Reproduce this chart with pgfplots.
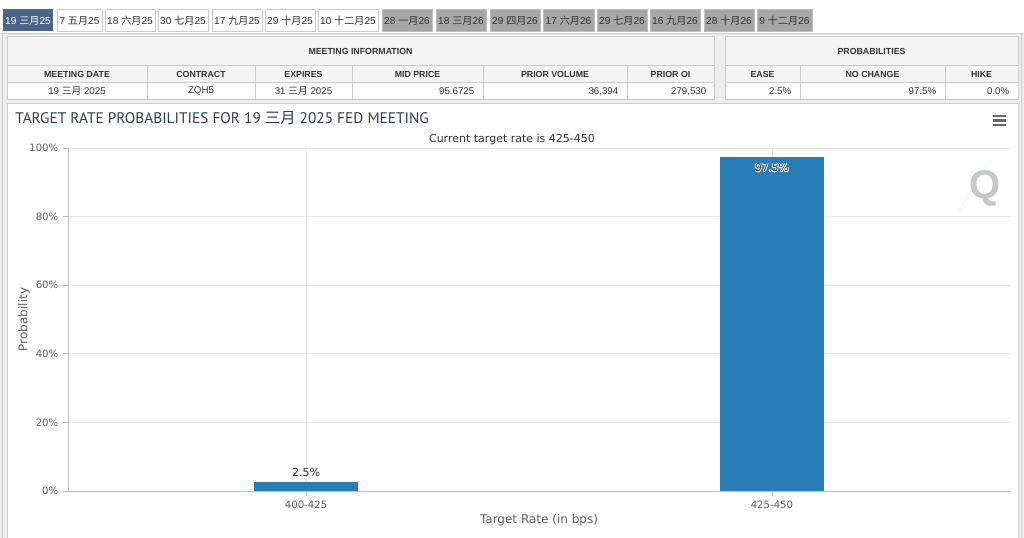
\documentclass[border=0pt]{standalone}
\usepackage{fontspec}
\setmainfont{DejaVu Sans}
\newfontfamily\arial{Liberation Sans}
\newfontfamily\cjk{Noto Sans CJK SC}
\newfontfamily\ptsans{PT Sans}
\usepackage{pgfplots}
\pgfplotsset{compat=1.18}
\definecolor{barblue}{RGB}{40,127,184}
\definecolor{selblue}{RGB}{74,101,135}
\definecolor{tabgray}{RGB}{166,166,166}
\definecolor{pagebg}{RGB}{238,238,238}
\definecolor{cellbg}{RGB}{245,245,245}
\definecolor{lineg}{RGB}{204,204,204}
\definecolor{titlec}{RGB}{44,62,90}
\definecolor{txt}{RGB}{51,51,51}
\definecolor{ticktxt}{RGB}{96,96,96}

\newcommand{\tabsel}[3]{\fill[selblue] (#1,9) rectangle (#2,31);
  \node[text=white,font=\arial\fontsize{7.6}{9}\selectfont,inner sep=0] at ({(#1+#2)/2},20.5) {#3};}
\newcommand{\tabw}[3]{\filldraw[fill=white,draw=lineg,line width=0.6pt] (#1,9) rectangle (#2,31);
  \node[text=txt,font=\arial\fontsize{7.6}{9}\selectfont,inner sep=0] at ({(#1+#2)/2},20.5) {#3};}
\newcommand{\tabg}[3]{\filldraw[fill=tabgray,draw=black!25,line width=0.6pt] (#1,9) rectangle (#2,31);
  \node[text=txt,font=\arial\fontsize{7.6}{9}\selectfont,inner sep=0] at ({(#1+#2)/2},20.5) {#3};}
\newcommand{\hd}{\arial\bfseries\fontsize{6.6}{8}\selectfont}
\newcommand{\dt}{\arial\fontsize{7.3}{8}\selectfont}
\newcommand{\cj}[1]{{\cjk #1}}

\begin{document}
\begin{tikzpicture}
\begin{scope}[x=0.75pt,y=-0.75pt]
\path[use as bounding box] (0,0) rectangle (1024,538);
\fill[pagebg] (0,0) rectangle (1024,538);
\fill[white] (0,0) rectangle (1024,33);
\draw[lineg,line width=0.75pt] (0,33.5) -- (1024,33.5);
% tabs
\tabsel{3}{53}{19 \cj{三月}25}
\tabw{57}{102}{7 \cj{五月}25}
\tabw{105}{155}{18 \cj{六月}25}
\tabw{158}{208}{30 \cj{七月}25}
\tabw{212}{262}{17 \cj{九月}25}
\tabw{265}{315}{29 \cj{十月}25}
\tabw{318}{378}{10 \cj{十二月}25}
\tabg{382}{432}{28 \cj{一月}26}
\tabg{436}{486}{18 \cj{三月}26}
\tabg{490}{540}{29 \cj{四月}26}
\tabg{543}{594}{17 \cj{六月}26}
\tabg{597}{647}{29 \cj{七月}26}
\tabg{650}{700}{16 \cj{九月}26}
\tabg{704}{754}{28 \cj{十月}26}
\tabg{757}{812}{9 \cj{十二月}26}
% outer left lines
\draw[lineg,line width=0.75pt] (2.5,33.5) -- (2.5,538);
\draw[lineg,line width=0.75pt] (1021.5,33.5) -- (1021.5,538);
% meeting information table
\fill[cellbg] (7,37) rectangle (714,66);
\fill[cellbg] (7,66) rectangle (714,83);
\fill[white] (7,83) rectangle (714,100);
\draw[lineg,line width=0.75pt] (7,37) rectangle (714,100);
\draw[lineg,line width=0.75pt] (7,66) -- (714,66) (7,83) -- (714,83);
\foreach \xx in {147,255,352,483,627} \draw[lineg,line width=0.75pt] (\xx,66) -- (\xx,100);
\node[font=\hd,text=txt] at (360.5,51) {MEETING INFORMATION};
\node[font=\hd,text=txt] at (77,74.5) {MEETING DATE};
\node[font=\hd,text=txt] at (201,74.5) {CONTRACT};
\node[font=\hd,text=txt] at (303.5,74.5) {EXPIRES};
\node[font=\hd,text=txt] at (417.5,74.5) {MID PRICE};
\node[font=\hd,text=txt] at (555,74.5) {PRIOR VOLUME};
\node[font=\hd,text=txt] at (670.5,74.5) {PRIOR OI};
\node[font=\dt,text=txt] at (77,91.5) {19 \cj{三月} 2025};
\node[font=\dt,text=txt] at (201,91.5) {ZQH5};
\node[font=\dt,text=txt] at (303.5,91.5) {31 \cj{三月} 2025};
\node[font=\dt,text=txt,anchor=east] at (479,91.5) {95.6725};
\node[font=\dt,text=txt,anchor=east] at (623,91.5) {36,394};
\node[font=\dt,text=txt,anchor=east] at (711,91.5) {279,530};
% probabilities table
\fill[cellbg] (725,37) rectangle (1018,66);
\fill[cellbg] (725,66) rectangle (1018,83);
\fill[white] (725,83) rectangle (1018,100);
\draw[lineg,line width=0.75pt] (725,37) rectangle (1018,100);
\draw[lineg,line width=0.75pt] (725,66) -- (1018,66) (725,83) -- (1018,83);
\foreach \xx in {800,945} \draw[lineg,line width=0.75pt] (\xx,66) -- (\xx,100);
\node[font=\hd,text=txt] at (871.5,51) {PROBABILITIES};
\node[font=\hd,text=txt] at (762.5,74.5) {EASE};
\node[font=\hd,text=txt] at (872.5,74.5) {NO CHANGE};
\node[font=\hd,text=txt] at (981.5,74.5) {HIKE};
\node[font=\dt,text=txt,anchor=east] at (796,91.5) {2.5\%};
\node[font=\dt,text=txt,anchor=east] at (941,91.5) {97.5\%};
\node[font=\dt,text=txt,anchor=east] at (1014,91.5) {0.0\%};
% chart panel
\filldraw[fill=white,draw=lineg,line width=0.75pt] (7,104) rectangle (1018,545);
\node[font=\ptsans\fontsize{11.5}{14}\selectfont,text=titlec,anchor=west,inner sep=0] at (15,118) {TARGET RATE PROBABILITIES FOR 19 \cj{三月} 2025 FED MEETING};
\node[font=\fontsize{8.25}{10}\selectfont,text=txt,inner sep=0] at (512,139) {Current target rate is 425-450};
% menu icon
\foreach \yy in {116,120.5,125} \draw[black!60,line width=1.6pt] (993,\yy) -- (1006,\yy);
% watermark
\draw[cyan!12,line width=1pt,dash pattern=on 1pt off 1.5pt] (958,212) -- (992,158);
\node[font=\arial\bfseries\fontsize{30}{30}\selectfont,text=black!22,inner sep=0] at (985,188) {Q};
\end{scope}
\begin{axis}[
  at={(51pt,-368.25pt)}, anchor=south west,
  scale only axis, width=706.5pt, height=257.25pt,
  xmin=-0.511, xmax=1.511, ymin=0, ymax=100,
  ybar, bar width=78pt,
  xtick={0,1}, xticklabels={400-425,425-450},
  ytick={0,20,...,100},
  yticklabel={\pgfmathprintnumber{\tick}\%},
  /pgf/number format/assume math mode=true,
  axis x line*=bottom, axis y line*=left,
  axis line style={draw=black!25,-,line width=0.75pt},
  xmajorgrids, ymajorgrids,
  grid style={draw=black!9,line width=0.6pt},
  tick style={draw=black!25,line width=0.6pt},
  major tick length=3.75pt, tick align=outside,
  ticklabel style={font=\fontsize{7.6}{9}\selectfont,text=ticktxt},
  xlabel={Target Rate (in bps)}, ylabel={Probability},
  label style={font=\fontsize{9}{11}\selectfont,text=ticktxt},
  xlabel style={at={(axis description cs:0.5,-0.0845)},anchor=center},
  ylabel style={at={(axis description cs:-0.0467,0.5)},anchor=center},
  clip=false,
]
\addplot[fill=barblue,draw=none,bar shift=0pt,
  nodes near coords={\pgfmathprintnumber{\pgfplotspointmeta}\%},
  every node near coord/.style={font=\fontsize{8.3}{10}\selectfont,text=txt,anchor=south,inner sep=2pt,yshift=2pt}]
  coordinates {(0,2.5)};
\addplot[fill=barblue,draw=none,bar shift=0pt] coordinates {(1,97.5)};
\pgfplotsinvokeforeach{0,45,90,135,180,225,270,315}{
\addplot[draw=none,fill=none,bar shift=0pt,
  nodes near coords={\pgfmathprintnumber{\pgfplotspointmeta}\%},
  every node near coord/.style={font=\fontsize{8}{10}\selectfont,text=white,anchor=center,yshift=-8.5pt,shift={(#1:0.55pt)}}]
  coordinates {(1,97.5)};
}
\addplot[draw=none,fill=none,bar shift=0pt,
  nodes near coords={\pgfmathprintnumber{\pgfplotspointmeta}\%},
  every node near coord/.style={font=\fontsize{8}{10}\selectfont,text=black!80,anchor=center,yshift=-8.5pt}]
  coordinates {(1,97.5)};
\end{axis}
\end{tikzpicture}
\end{document}
